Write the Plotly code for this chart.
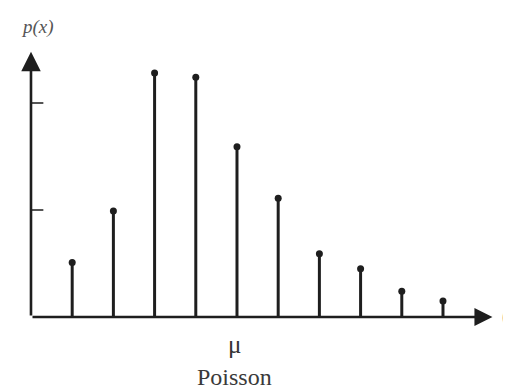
import plotly.graph_objects as go

# Data (arbitrary units, y tick spacing = 1)
k_values = [1, 2, 3, 4, 5, 6, 7, 8, 9, 10]
p_values = [0.51, 0.99, 2.28, 2.24, 1.59, 1.11, 0.59, 0.45, 0.24, 0.15]
y_ticks = [1, 2]
mu_position = 4.95
x_label = "μ"
y_label = "p(x)"
caption = "Poisson"

ink = "#1e1e1e"
serif = "Liberation Serif"

# stems built from the data
sx, sy = [], []
for k, p in zip(k_values, p_values):
    sx += [k, k, None]
    sy += [0, p, None]

# y-axis tick marks
tx, ty = [], []
for t in y_ticks:
    tx += [0, 0.3, None]
    ty += [t, t, None]

fig = go.Figure()
fig.add_trace(go.Scatter(x=sx, y=sy, mode="lines",
                         line=dict(color=ink, width=3), hoverinfo="skip"))
fig.add_trace(go.Scatter(x=k_values, y=p_values, mode="markers",
                         marker=dict(color=ink, size=7, symbol="circle"),
                         hoverinfo="skip"))
fig.add_trace(go.Scatter(x=tx, y=ty, mode="lines",
                         line=dict(color="#555555", width=2), hoverinfo="skip"))

annotations = [
    # y axis with arrow
    dict(x=0, y=2.48, ax=0, ay=0, xref="x", yref="y", axref="x", ayref="y",
         showarrow=True, arrowhead=2, arrowsize=1.5, arrowwidth=2.6,
         arrowcolor=ink, text=""),
    # x axis with arrow
    dict(x=11.2, y=0, ax=0, ay=0, xref="x", yref="y", axref="x", ayref="y",
         showarrow=True, arrowhead=2, arrowsize=1.5, arrowwidth=2.4,
         arrowcolor=ink, text=""),
    dict(x=0.15, y=2.71, xref="x", yref="y", text=f"<i>{y_label}</i>",
         showarrow=False, font=dict(family=serif, size=19, color="#555555")),
    dict(x=mu_position, y=-0.26, xref="x", yref="y", text=x_label,
         showarrow=False, font=dict(family=serif, size=25, color="#333333")),
    dict(x=mu_position, y=-0.565, xref="x", yref="y", text=caption,
         showarrow=False, font=dict(family=serif, size=24, color="#3a3a3a")),
    dict(x=0.974, y=0.0, xref="paper", yref="y", xanchor="center", text="(",
         showarrow=False, font=dict(family=serif, size=20, color="#333333")),
]

# the page body adds an 8 px margin, so axis ranges are shifted to compensate
fig.update_layout(
    width=511, height=389,
    margin=dict(l=0, r=0, t=0, b=0),
    paper_bgcolor="white", plot_bgcolor="white",
    showlegend=False,
    xaxis=dict(range=[-0.558, 11.845], visible=False, fixedrange=True),
    yaxis=dict(range=[-0.748, 2.888], visible=False, fixedrange=True),
    annotations=annotations,
)

fig.write_html("out.html")
